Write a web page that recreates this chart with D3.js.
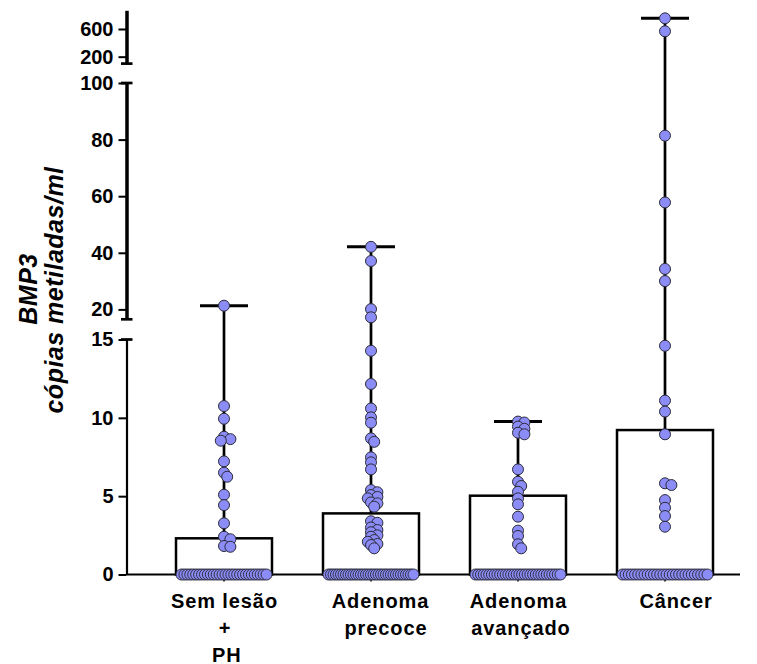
<!DOCTYPE html>
<html>
<head>
<meta charset="utf-8">
<script src="https://cdn.jsdelivr.net/npm/d3@7"></script>
<style>
  html, body { margin: 0; padding: 0; background: #fff; }
  svg { display: block; }
  text { font-family: "Liberation Sans", Arial, Helvetica, sans-serif; }
</style>
</head>
<body>
<script>
// ---------------- DATA ----------------
const categories = ["Sem lesão + PH", "Adenoma precoce", "Adenoma avançado", "Câncer"];
const categoryLabelLines = [["Sem lesão", "+", "PH"], ["Adenoma", "precoce"], ["Adenoma", "avançado"], ["Câncer"]];

// bar heights (mean) per group
const means = [2.31, 3.9, 5.03, 9.22];

// individual values per group (copies/ml)
const semLesao = [21.3, 10.75, 9.94, 8.79, 8.64, 8.54, 7.22, 6.5, 6.24, 5.09, 4.43, 3.27, 2.41, 2.25, 1.82, 1.77,
  0,0,0,0,0,0,0,0,0,0,0,0,0,0,0,0,0,0,0,0,0,0,0,0,0,0,0,0,0,0];
const adenomaPrecoce = [42.1, 37.1, 20.1, 17.2, 14.28, 12.16, 10.6, 10.03, 9.69, 8.69, 8.47, 7.48, 7.16, 6.71,
  5.39, 5.25, 5.07, 4.95, 4.86, 4.6, 4.54, 4.33, 3.4, 3.3, 3.0, 2.84, 2.7, 2.5, 2.41, 2.2, 2.09, 1.95, 1.88, 1.67,
  0,0,0,0,0,0,0,0,0,0,0,0,0,0,0,0,0,0,0,0,0,0,0,0,0,0,0,0,0,0,0,0,0,0,0];
const adenomaAvancado = [9.76, 9.7, 9.44, 9.3, 9.05, 8.95, 6.71, 5.92, 5.65, 5.28, 4.86, 4.48, 3.69, 2.8, 2.46, 1.93, 1.67,
  0,0,0,0,0,0,0,0,0,0,0,0,0,0,0,0,0,0,0,0,0,0,0,0,0,0,0,0,0,0,0,0];
const cancer = [754, 567, 81.4, 57.8, 34.3, 30.0, 14.6, 11.1, 10.4, 8.95, 5.82, 5.71, 4.75, 4.26, 3.73, 3.05,
  0,0,0,0,0,0,0,0,0,0,0,0,0,0,0,0,0,0,0,0,0,0,0,0,0,0,0,0];
const groupValues = [semLesao, adenomaPrecoce, adenomaAvancado, cancer];

// axis tick labels per broken segment
const ticksBottom = [0, 5, 10, 15];
const ticksMiddle = [20, 40, 60, 80, 100];
const ticksTop = [200, 600];

const yTitleLine1 = "BMP3";
const yTitleLine2 = "cópias metiladas/ml";

// ---------------- LAYOUT ----------------
const W = 757, H = 664;
const axisX = 126.5;
const labelDx = [[0.5, 1, 2.7], [9.5, 15], [0.5, 3], [11]];
const pointR = 5.5;

const svg = d3.select("body").append("svg").attr("width", W).attr("height", H);

const x = d3.scaleBand().domain(categories).range([150.5, 738.5]).paddingInner(0.347).paddingOuter(0.1735);

const yBottom = d3.scaleLinear().domain([0, 15]).range([574.5, 339.5]);
const yMid = d3.scaleLinear().domain([16.5, 100]).range([319.3, 83]);
const yTop = d3.scaleLinear().domain([100, 870]).range([63.6, 10.3]);
function y(v) { return v <= 15 ? yBottom(v) : (v <= 100 ? yMid(v) : yTop(v)); }

// baseline
svg.append("line").attr("x1", axisX).attr("x2", 740).attr("y1", yBottom(0)).attr("y2", yBottom(0))
  .attr("stroke", "#000").attr("stroke-width", 2);

// category ticks
categories.forEach(c => {
  const cx = x(c) + x.bandwidth() / 2;
  svg.append("line").attr("x1", cx).attr("x2", cx).attr("y1", yBottom(0)).attr("y2", yBottom(0) + 7)
    .attr("stroke", "#000").attr("stroke-width", 1.5);
});

// boxes (means)
categories.forEach((c, i) => {
  svg.append("rect")
    .attr("x", x(c)).attr("width", x.bandwidth())
    .attr("y", y(means[i])).attr("height", y(0) - y(means[i]))
    .attr("fill", "#fff").attr("stroke", "#000").attr("stroke-width", 2.5);
});

// whiskers to maximum
categories.forEach((c, i) => {
  const cx = x(c) + x.bandwidth() / 2;
  const mx = d3.max(groupValues[i]);
  svg.append("line").attr("x1", cx).attr("x2", cx).attr("y1", y(means[i])).attr("y2", y(mx))
    .attr("stroke", "#000").attr("stroke-width", 2.7);
  svg.append("line").attr("x1", cx - 24).attr("x2", cx + 24).attr("y1", y(mx)).attr("y2", y(mx))
    .attr("stroke", "#000").attr("stroke-width", 3);
});

// points
categories.forEach((c, i) => {
  const cx = x(c) + x.bandwidth() / 2;
  const vals = groupValues[i];
  const zeros = vals.filter(v => v === 0);
  const nonzero = vals.filter(v => v > 0).sort((a, b) => b - a);
  const pts = [];
  const x0 = x(c) + pointR, x1 = x(c) + x.bandwidth() - pointR;
  zeros.forEach((v, k) => {
    pts.push({ x: zeros.length > 1 ? x0 + k * (x1 - x0) / (zeros.length - 1) : cx, y: y(v) });
  });
  const placed = [];
  nonzero.forEach(v => {
    const yy = y(v);
    const offs = [0, 1, -1, 2, -2, 3, -3];
    let px = cx;
    for (const k of offs) {
      const xx = cx + k * 3.2;
      if (placed.every(p => Math.hypot(p.x - xx, p.y - yy) >= 4.5)) { px = xx; break; }
    }
    placed.push({ x: px, y: yy });
  });
  pts.push(...placed);
  svg.append("g").selectAll("circle").data(pts).join("circle")
    .attr("cx", d => d.x).attr("cy", d => d.y).attr("r", pointR)
    .attr("fill", "#8c8cf7").attr("stroke", "#2b2b3a").attr("stroke-width", 1);
});

// broken y axis
function drawAxis(scale, ticks, domainWidth) {
  const g = svg.append("g").attr("transform", `translate(${axisX},0)`)
    .call(d3.axisLeft(scale).tickValues(ticks).tickSize(8).tickSizeOuter(0).tickPadding(5));
  g.select(".domain").attr("stroke-width", domainWidth);
  g.selectAll(".tick line").attr("stroke-width", 2);
  g.selectAll(".tick text").attr("font-size", 20).attr("font-weight", "bold").attr("fill", "#000")
    .attr("font-family", "'Liberation Sans', Arial, sans-serif");
}
drawAxis(yBottom, ticksBottom, 2.2);
drawAxis(yMid, ticksMiddle, 3.5);
drawAxis(yTop, ticksTop, 3.5);

// break caps
[yTop(100), yMid(100), yMid(16.5), yBottom(15)].forEach(cy => {
  svg.append("line").attr("x1", axisX - 5.5).attr("x2", axisX + 6).attr("y1", cy).attr("y2", cy)
    .attr("stroke", "#000").attr("stroke-width", 2.7);
});

// y title
svg.append("text").attr("transform", "translate(37,289) rotate(-90)")
  .attr("text-anchor", "middle").attr("font-size", 25).attr("font-weight", "bold").attr("font-style", "italic")
  .attr("letter-spacing", 0.5).text(yTitleLine1);
svg.append("text").attr("transform", "translate(62.5,290) rotate(-90)")
  .attr("text-anchor", "middle").attr("font-size", 25).attr("font-weight", "bold").attr("font-style", "italic")
  .attr("letter-spacing", 0.5).text(yTitleLine2);

// x labels
categories.forEach((c, i) => {
  const cx = x(c) + x.bandwidth() / 2;
  categoryLabelLines[i].forEach((line, j) => {
    svg.append("text").attr("x", cx + labelDx[i][j]).attr("y", 607.5 + j * 27)
      .attr("text-anchor", "middle").attr("font-size", 20).attr("font-weight", "bold")
      .attr("letter-spacing", 0.9).text(line);
  });
});
</script>
</body>
</html>
